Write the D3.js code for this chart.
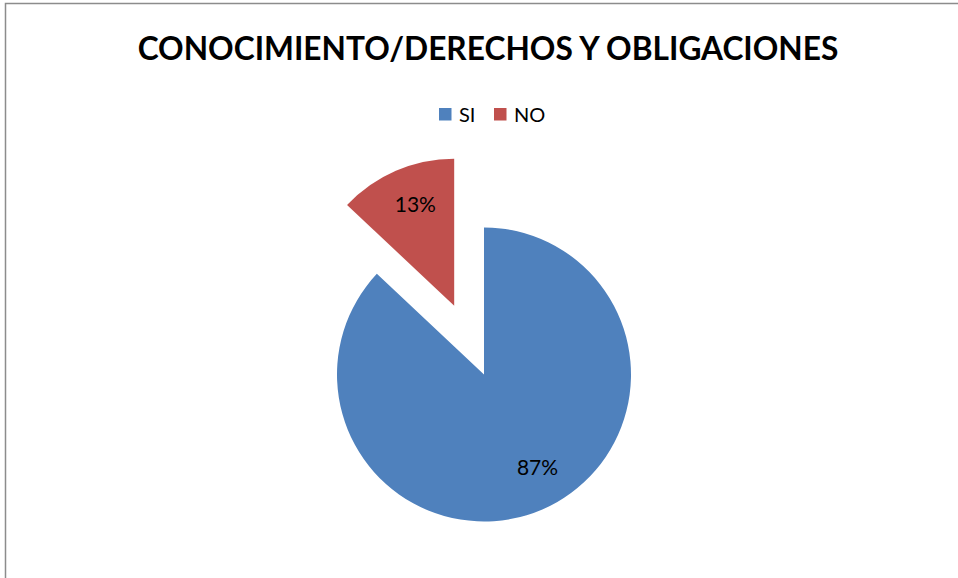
<!DOCTYPE html>
<html>
<head>
<meta charset="utf-8">
<script src="https://cdn.jsdelivr.net/npm/d3@7"></script>
<style>
  body { margin: 0; background: #fff; }
  text { font-family: Lato, "Open Sans", sans-serif; }
</style>
</head>
<body>
<svg id="chart" width="958" height="578"></svg>
<script>
// data
const categories = ["SI", "NO"];
const values = [87, 13];
const colors = ["#4F81BD", "#C0504D"];
const title = "CONOCIMIENTO/DERECHOS Y OBLIGACIONES";

const width = 958, height = 578;
const cx = 484, cy = 374.5, radius = 147;
const explode = { NO: 75 };
const labelNudge = { SI: -0.11, NO: 0.04 };   // radians, Excel's label placement

const svg = d3.select("#chart");

// chart frame (runs off right & bottom)
svg.append("rect")
  .attr("x", 5.5).attr("y", 3.5)
  .attr("width", width + 20).attr("height", height + 20)
  .attr("fill", "#fff").attr("stroke", "#8c8c8c").attr("stroke-width", 1.5);

// title, fitted to the width seen in the reference
const t = svg.append("text")
  .attr("x", 488).attr("y", 60)
  .attr("text-anchor", "middle")
  .attr("font-weight", "bold")
  .attr("font-size", 28)
  .attr("fill", "#000")
  .text(title);
const tw = t.node().getComputedTextLength();
t.attr("font-size", 28 * 701 / tw);

// legend
const legend = svg.append("g").attr("transform", "translate(439,108)");
const legendX = [0, 55];
categories.forEach((c, i) => {
  const g = legend.append("g").attr("transform", `translate(${legendX[i]},0)`);
  g.append("rect").attr("width", 12.5).attr("height", 12.5).attr("fill", colors[i]);
  g.append("text").attr("x", 20).attr("y", 14).attr("font-size", 20).attr("fill", "#000").text(c);
});

// pie
const pie = d3.pie().sort(null).value(d => d.value);
const arcs = pie(categories.map((c, i) => ({ name: c, value: values[i], color: colors[i] })));
const arc = d3.arc().innerRadius(0).outerRadius(radius);
const labelArc = d3.arc().innerRadius(radius * 0.735).outerRadius(radius * 0.735);

const totals = d3.sum(values);
const slices = svg.append("g").attr("transform", `translate(${cx},${cy})`)
  .selectAll("g").data(arcs).join("g")
  .attr("transform", d => {
    const off = explode[d.data.name] || 0;
    const a = (d.startAngle + d.endAngle) / 2;
    return `translate(${Math.sin(a) * off},${-Math.cos(a) * off})`;
  });

slices.append("path").attr("d", arc).attr("fill", d => d.data.color);

slices.append("text")
  .attr("transform", d => {
    const n = labelNudge[d.data.name] || 0;
    const [x, y] = labelArc.centroid({ startAngle: d.startAngle + n, endAngle: d.endAngle + n });
    return `translate(${x},${y})`;
  })
  .attr("text-anchor", "middle")
  .attr("dy", "0.33em")
  .attr("font-size", 21)
  .attr("fill", "#000")
  .text(d => Math.round(d.data.value / totals * 100) + "%");
</script>
</body>
</html>
